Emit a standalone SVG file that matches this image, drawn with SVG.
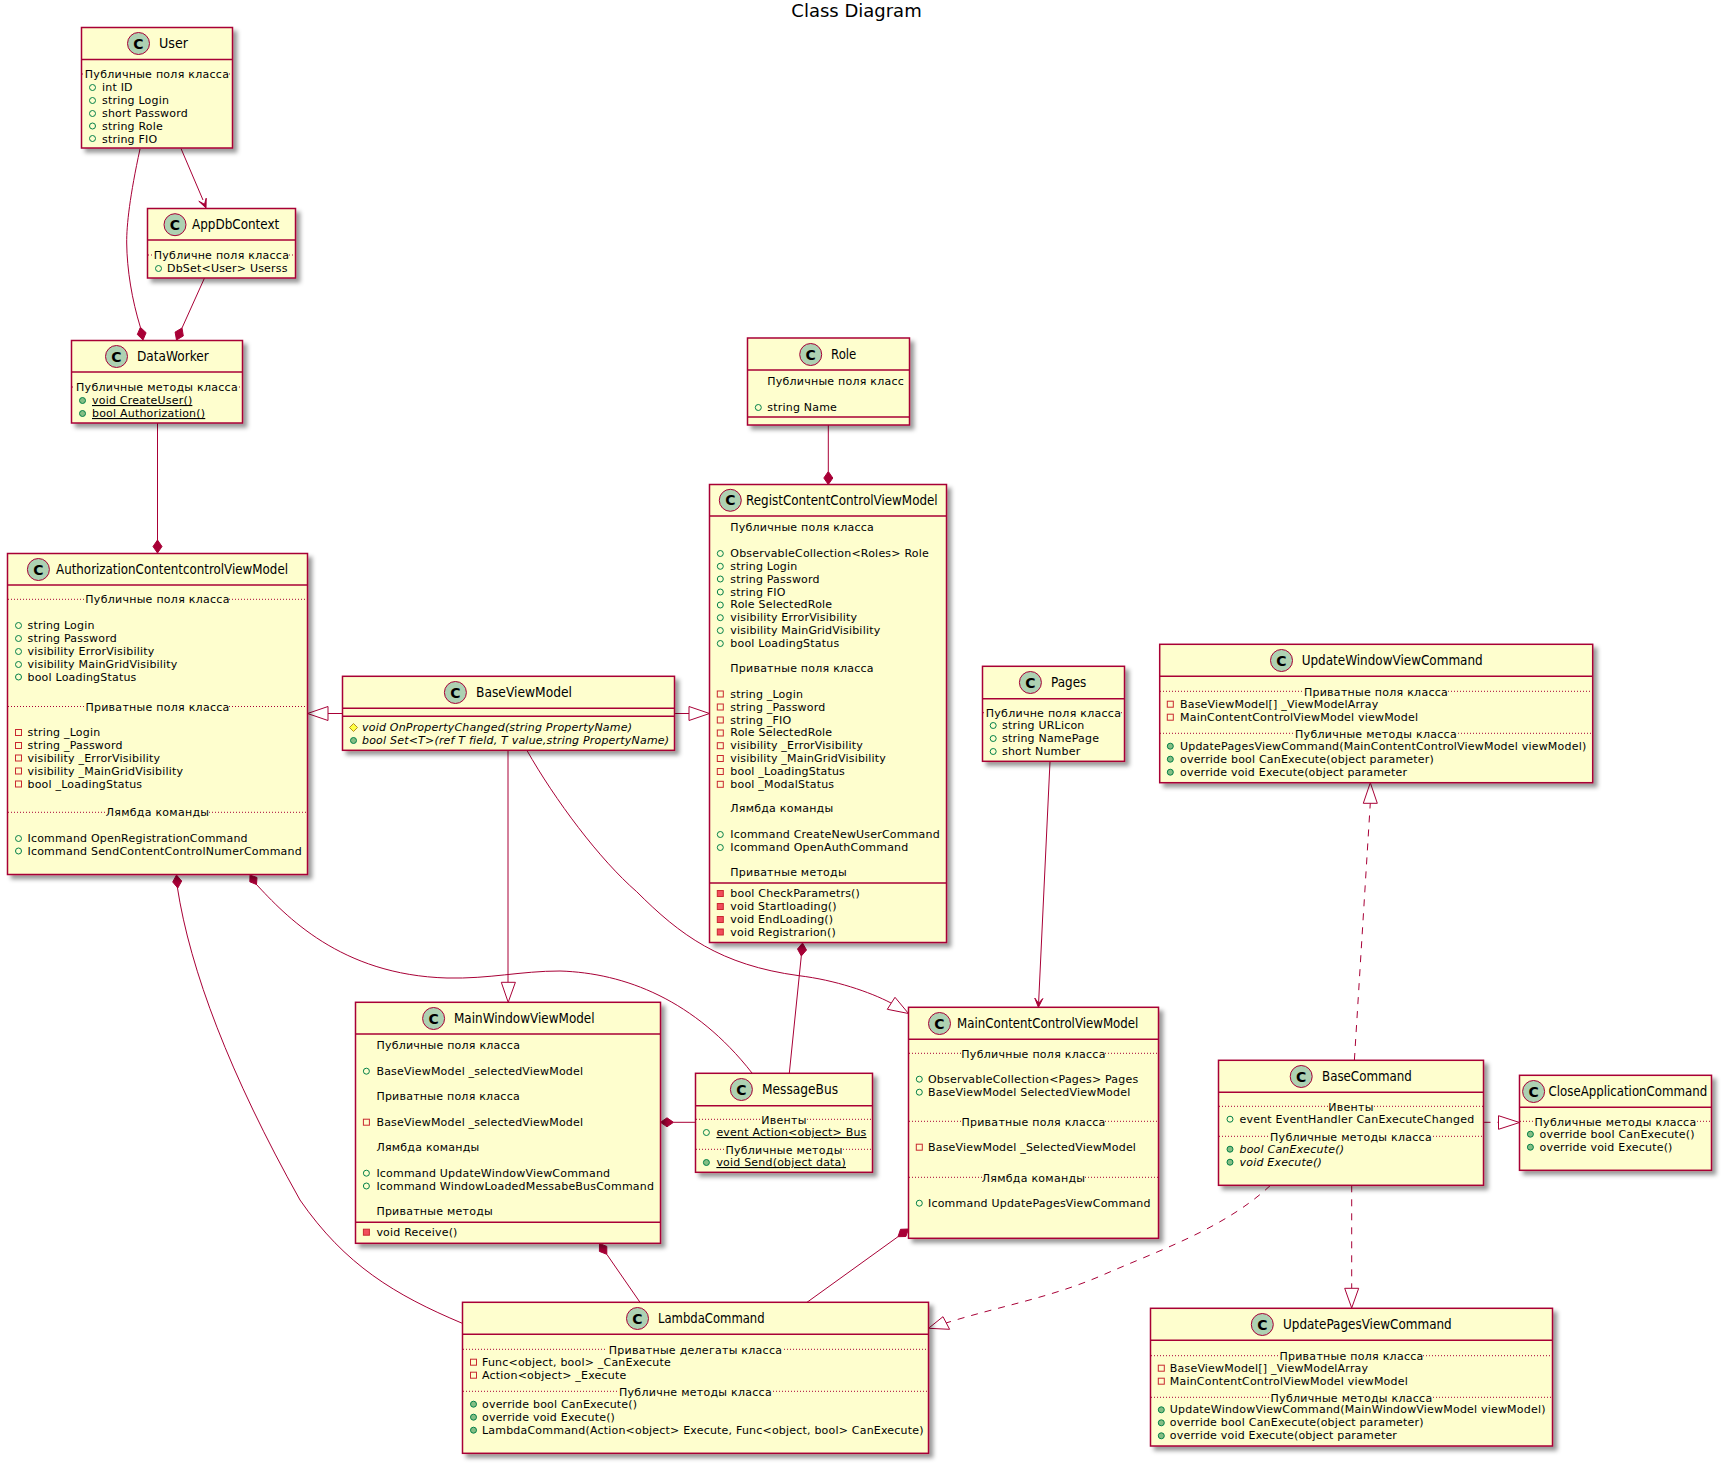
<svg xmlns="http://www.w3.org/2000/svg" width="1724" height="1466" viewBox="0 0 1724 1466">
<style>
text{font-family:"DejaVu Sans",sans-serif;fill:#000}
.t{font-size:11px;letter-spacing:.2px}
.r{font-size:11px;letter-spacing:.24px}
.c{font-size:11px;text-anchor:middle;letter-spacing:.27px}
.n{font-size:14px}
.i{font-style:italic}
.u{text-decoration:underline}
.g{font-size:14px;font-weight:bold;text-anchor:middle}
.box{fill:#FEFECE;stroke:#A80036;stroke-width:1.5;filter:url(#sh)}
.ln{fill:none;stroke:#A80036;stroke-width:1.5}
.sep{fill:none;stroke:#A80036;stroke-width:1;stroke-dasharray:1 2}
.spot{fill:#ADD1B2;stroke:#A80036;stroke-width:1}
.e{fill:none;stroke:#A80036;stroke-width:1}
.d{stroke-dasharray:7 7}
.tri{fill:#fff;stroke:#A80036;stroke-width:1}
.fill{fill:#A80036;stroke:#A80036;stroke-width:1}
</style>
<defs>
<filter id="sh" x="-10%" y="-10%" width="125%" height="125%"><feGaussianBlur in="SourceAlpha" stdDeviation="2" result="b"/><feColorMatrix in="b" type="matrix" values="0 0 0 0 0 0 0 0 0 0 0 0 0 0 0 0 0 0 .4 0" result="c"/><feOffset in="c" dx="4" dy="4" result="o"/><feMerge><feMergeNode in="o"/><feMergeNode in="SourceGraphic"/></feMerge></filter>
<circle id="pf" r="3" fill="none" stroke="#038048"/>
<circle id="pm" r="3" fill="#84BE84" stroke="#038048"/>
<rect id="xf" x="-3" y="-3" width="6" height="6" fill="none" stroke="#C82930"/>
<rect id="xm" x="-3" y="-3" width="6" height="6" fill="#F24D5C" stroke="#C82930"/>
<polygon id="pr" points="0,-4 4,0 0,4 -4,0" fill="#FFFF44" stroke="#B38D22"/>
</defs>
<text x="856.5" y="17" font-size="18" text-anchor="middle">Class Diagram</text>

<g id="connectors">
<path class="e" d="M181,148.5L203,200"/><polygon class="fill" points="206,208 206.2,198.2 204.5,204.3 198.8,201.2"/>
<path class="e" d="M140,149C130,195 126.5,225 126.7,243C127,270 132,300 140.4,327.3"/><polygon class="fill" points="143,340 146.1,332.7 140.4,327.3 137.3,334.5"/>
<path class="e" d="M204.5,278L182,328"/><polygon class="fill" points="176.5,340 183.3,335.9 182,328 175.1,332.1"/>
<path class="e" d="M157.5,423V540"/><polygon class="fill" points="157.5,553 162,546.5 157.5,540 153,546.5"/>
<path class="e" d="M828.3,425V471.5"/><polygon class="fill" points="828.3,484.5 832.8,478 828.3,471.5 823.8,478"/>
<path class="e" d="M328,713.5H342.5"/><polygon class="tri" points="307.5,713.5 328,706.5 328,720.5"/>
<path class="e" d="M674.5,713.5H689"/><polygon class="tri" points="709.5,713.5 689,706.5 689,720.5"/>
<path class="e" d="M526.7,750C555,800 600,860 636.7,891.7C680,935 720,965 799,975.7C835,980 870,992 891,1003"/><polygon class="tri" points="908.5,1013.5 887.3,1009.3 895,997.3"/>
<path class="e" d="M1050,761.5L1038.6,1003"/><polygon class="fill" points="1038.4,1007.3 1042.8,998.5 1038.6,1003.3 1034.8,998.1"/>
<path class="e d" d="M1354.4,1060L1370.3,803"/><polygon class="tri" points="1370.3,782.7 1363.3,803.3 1377.3,803.3"/>
<path class="e d" d="M1483.5,1122.3H1498.5"/><polygon class="tri" points="1519.5,1122.5 1498.5,1115.7 1498.5,1129.3"/>
<path class="e d" d="M1351.7,1185.3V1288"/><polygon class="tri" points="1351.7,1308 1344.7,1288.3 1358.7,1288.3"/>
<path class="e d" d="M1270.3,1185.5C1225,1228 1160,1250 1102.8,1275C1050,1298 1000,1306 946,1323"/><polygon class="tri" points="928.5,1328.3 949.6,1329.3 943,1316.7"/>
<path class="e" d="M177.3,887C190,970 230,1075 300,1200C345,1265 395,1295 462.3,1323.3"/><polygon class="fill" points="176.5,875 181.7,881 177.8,888 172.7,882"/>
<path class="e" d="M256,884C285,915 340,975 447,978C490,979 520,971 560,971C625,973 695,1000 752,1073"/><polygon class="fill" points="250,875 257,877.5 256.5,884.5 249.8,881.8"/>
<path class="e" d="M508,750.3V982.3"/><polygon class="tri" points="508.2,1002.3 501.3,982.3 515.4,982.3"/>
<path class="e" d="M801.3,956L789.3,1073.3"/><polygon class="fill" points="802.5,943 806.5,950 801.3,956 797.5,949"/>
<path class="e" d="M673.5,1122.3H695.5"/><polygon class="fill" points="660.5,1122.3 667,1117.8 673.5,1122.3 667,1126.8"/>
<path class="e" d="M606.8,1254.3L640,1302.3"/><polygon class="fill" points="599.5,1243.5 606.8,1246.4 606.8,1254.3 599.4,1251.4"/>
<path class="e" d="M898,1236.7L807,1302.3"/><polygon class="fill" points="908.5,1229 905.9,1236.5 898,1236.7 900.5,1229.3"/>
</g>

<g id="User">
<rect class="box" x="81.5" y="27.5" width="151" height="120.5"/><path class="ln" d="M81.5,59.5H232.5"/>
<circle class="spot" cx="138.5" cy="43.5" r="11"/><text class="g" x="138.5" y="48.5">C</text><text class="n" x="159" y="48" textLength="29" lengthAdjust="spacingAndGlyphs">User</text>
<path class="sep" d="M82,74H85M229,74H232"/><text class="c" x="157" y="78">Публичные поля класса</text>
<use href="#pf" x="92.5" y="87.5"/><text class="t" x="102" y="91">int ID</text>
<use href="#pf" x="92.5" y="100.5"/><text class="t" x="102" y="104">string Login</text>
<use href="#pf" x="92.5" y="113.5"/><text class="t" x="102" y="117">short Password</text>
<use href="#pf" x="92.5" y="126"/><text class="t" x="102" y="129.5">string Role</text>
<use href="#pf" x="92.5" y="138.5"/><text class="t" x="102" y="142.5">string FIO</text>
</g>

<g id="AppDbContext">
<rect class="box" x="147.5" y="208.5" width="148" height="69.5"/><path class="ln" d="M147.5,240H295.5"/>
<circle class="spot" cx="175" cy="224.7" r="11"/><text class="g" x="175" y="229.7">C</text><text class="n" x="192" y="229" textLength="87.3" lengthAdjust="spacingAndGlyphs">AppDbContext</text>
<path class="sep" d="M148,255H154M289,255H295"/><text class="c" x="221.5" y="259">Публичне поля класса</text>
<use href="#pf" x="158.5" y="268.5"/><text class="t" x="167" y="272">DbSet&lt;User&gt; Userss</text>
</g>

<g id="DataWorker">
<rect class="box" x="71.5" y="340.5" width="171" height="82.5"/><path class="ln" d="M71.5,372H242.5"/>
<circle class="spot" cx="116.5" cy="356.5" r="11"/><text class="g" x="116.5" y="361.5">C</text><text class="n" x="137" y="361" textLength="71.7" lengthAdjust="spacingAndGlyphs">DataWorker</text>
<path class="sep" d="M72,387H75M239,387H242"/><text class="c" x="157" y="391">Публичные методы класса</text>
<use href="#pm" x="82.5" y="400.5"/><text class="t u" x="92" y="404">void CreateUser()</text>
<use href="#pm" x="82.5" y="413.5"/><text class="t u" x="92" y="417">bool Authorization()</text>
</g>

<g id="AuthorizationContentcontrolViewModel">
<rect class="box" x="7.5" y="553.5" width="300" height="321"/><path class="ln" d="M7.5,585H307.5"/>
<circle class="spot" cx="38.4" cy="569.5" r="11"/><text class="g" x="38.4" y="574.5">C</text><text class="n" x="56" y="574" textLength="232" lengthAdjust="spacingAndGlyphs">AuthorizationContentcontrolViewModel</text>
<path class="sep" d="M8,599.3H86M229,599.3H307"/><text class="c" x="157.5" y="603">Публичные поля класса</text>
<use href="#pf" x="18.5" y="625.5"/><text class="t" x="27.5" y="629">string Login</text>
<use href="#pf" x="18.5" y="638.5"/><text class="t" x="27.5" y="642">string Password</text>
<use href="#pf" x="18.5" y="651.5"/><text class="t" x="27.5" y="655">visibility ErrorVisibility</text>
<use href="#pf" x="18.5" y="664.5"/><text class="t" x="27.5" y="668">visibility MainGridVisibility</text>
<use href="#pf" x="18.5" y="677"/><text class="t" x="27.5" y="680.5">bool LoadingStatus</text>
<path class="sep" d="M8,706.5H86M229,706.5H307"/><text class="c" x="157.5" y="710.5">Приватные поля класса</text>
<use href="#xf" x="18.5" y="732.5"/><text class="t" x="27.5" y="736">string _Login</text>
<use href="#xf" x="18.5" y="745.5"/><text class="t" x="27.5" y="749">string _Password</text>
<use href="#xf" x="18.5" y="758"/><text class="t" x="27.5" y="761.5">visibility _ErrorVisibility</text>
<use href="#xf" x="18.5" y="771"/><text class="t" x="27.5" y="774.5">visibility _MainGridVisibility</text>
<use href="#xf" x="18.5" y="784"/><text class="t" x="27.5" y="787.5">bool _LoadingStatus</text>
<path class="sep" d="M8,812.3H106M209,812.3H307"/><text class="c" x="157.5" y="816">Лямбда команды</text>
<use href="#pf" x="18.5" y="838.5"/><text class="t" x="27.5" y="842">Icommand OpenRegistrationCommand</text>
<use href="#pf" x="18.5" y="851"/><text class="t" x="27.5" y="854.5">Icommand SendContentControlNumerCommand</text>
</g>

<g id="BaseViewModel">
<rect class="box" x="342.5" y="676.3" width="332" height="74"/><path class="ln" d="M342.5,708.3H674.5M342.5,716.3H674.5"/>
<circle class="spot" cx="455.4" cy="692.5" r="11"/><text class="g" x="455.4" y="697.5">C</text><text class="n" x="476" y="697" textLength="96" lengthAdjust="spacingAndGlyphs">BaseViewModel</text>
<use href="#pr" x="353.5" y="727.5"/><text class="t i" x="362" y="731">void OnPropertyChanged(string PropertyName)</text>
<use href="#pm" x="353.5" y="740.5"/><text class="t i" x="362" y="744">bool Set&lt;T&gt;(ref T field, T value,string PropertyName)</text>
</g>

<g id="Role">
<rect class="box" x="747.5" y="338" width="162" height="87"/><path class="ln" d="M747.5,370H909.5M747.5,417H909.5"/>
<circle class="spot" cx="810.7" cy="354.5" r="11"/><text class="g" x="810.7" y="359.5">C</text><text class="n" x="831" y="359" textLength="25.3" lengthAdjust="spacingAndGlyphs">Role</text>
<text class="r" x="767.3" y="385.3">Публичные поля класс</text>
<use href="#pf" x="758.3" y="407.5"/><text class="t" x="767.3" y="411">string Name</text>
</g>

<g id="RegistContentControlViewModel">
<rect class="box" x="709.5" y="484.5" width="237" height="458"/><path class="ln" d="M709.5,516H946.5M709.5,883H946.5"/>
<circle class="spot" cx="730.3" cy="500.3" r="11"/><text class="g" x="730.3" y="505.3">C</text><text class="n" x="746" y="505" textLength="191.7" lengthAdjust="spacingAndGlyphs">RegistContentControlViewModel</text>
<text class="r" x="730.3" y="531">Публичные поля класса</text>
<use href="#pf" x="720.3" y="553.5"/><text class="t" x="730.3" y="557">ObservableCollection&lt;Roles&gt; Role</text>
<use href="#pf" x="720.3" y="566.3"/><text class="t" x="730.3" y="569.8">string Login</text>
<use href="#pf" x="720.3" y="579"/><text class="t" x="730.3" y="582.6">string Password</text>
<use href="#pf" x="720.3" y="592"/><text class="t" x="730.3" y="595.5">string FIO</text>
<use href="#pf" x="720.3" y="605"/><text class="t" x="730.3" y="608.4">Role SelectedRole</text>
<use href="#pf" x="720.3" y="617.7"/><text class="t" x="730.3" y="621.2">visibility ErrorVisibility</text>
<use href="#pf" x="720.3" y="630.5"/><text class="t" x="730.3" y="634">visibility MainGridVisibility</text>
<use href="#pf" x="720.3" y="643.5"/><text class="t" x="730.3" y="647">bool LoadingStatus</text>
<text class="r" x="730.3" y="672">Приватные поля класса</text>
<use href="#xf" x="720.3" y="694"/><text class="t" x="730.3" y="697.6">string _Login</text>
<use href="#xf" x="720.3" y="707"/><text class="t" x="730.3" y="710.5">string _Password</text>
<use href="#xf" x="720.3" y="720"/><text class="t" x="730.3" y="723.5">string _FIO</text>
<use href="#xf" x="720.3" y="733"/><text class="t" x="730.3" y="736.3">Role SelectedRole</text>
<use href="#xf" x="720.3" y="745.7"/><text class="t" x="730.3" y="749.2">visibility _ErrorVisibility</text>
<use href="#xf" x="720.3" y="758.5"/><text class="t" x="730.3" y="762">visibility _MainGridVisibility</text>
<use href="#xf" x="720.3" y="771.5"/><text class="t" x="730.3" y="775">bool _LoadingStatus</text>
<use href="#xf" x="720.3" y="784.3"/><text class="t" x="730.3" y="787.8">bool _ModalStatus</text>
<text class="r" x="730.3" y="811.5">Лямбда команды</text>
<use href="#pf" x="720.3" y="834.5"/><text class="t" x="730.3" y="838">Icommand CreateNewUserCommand</text>
<use href="#pf" x="720.3" y="847.5"/><text class="t" x="730.3" y="851">Icommand OpenAuthCommand</text>
<text class="r" x="730.3" y="875.5">Приватные методы</text>
<use href="#xm" x="720.3" y="893.5"/><text class="t" x="730.3" y="897">bool CheckParametrs()</text>
<use href="#xm" x="720.3" y="906.5"/><text class="t" x="730.3" y="910">void Startloading()</text>
<use href="#xm" x="720.3" y="919.5"/><text class="t" x="730.3" y="923">void EndLoading()</text>
<use href="#xm" x="720.3" y="932"/><text class="t" x="730.3" y="935.5">void Registrarion()</text>
</g>

<g id="MainWindowViewModel">
<rect class="box" x="355.5" y="1002.3" width="305" height="241"/><path class="ln" d="M355.5,1034H660.5M355.5,1222.3H660.5"/>
<circle class="spot" cx="433.6" cy="1018.5" r="11"/><text class="g" x="433.6" y="1023.5">C</text><text class="n" x="454" y="1023" textLength="140.6" lengthAdjust="spacingAndGlyphs">MainWindowViewModel</text>
<text class="r" x="376.4" y="1048.7">Публичные поля класса</text>
<use href="#pf" x="366.4" y="1071.2"/><text class="t" x="376.4" y="1074.7">BaseViewModel _selectedViewModel</text>
<text class="r" x="376.4" y="1099.7">Приватные поля класса</text>
<use href="#xf" x="366.4" y="1122.2"/><text class="t" x="376.4" y="1125.7">BaseViewModel _selectedViewModel</text>
<text class="r" x="376.4" y="1150.7">Лямбда команды</text>
<use href="#pf" x="366.4" y="1173.2"/><text class="t" x="376.4" y="1176.7">Icommand UpdateWindowViewCommand</text>
<use href="#pf" x="366.4" y="1186"/><text class="t" x="376.4" y="1189.5">Icommand WindowLoadedMessabeBusCommand</text>
<text class="r" x="376.4" y="1215">Приватные методы</text>
<use href="#xm" x="366.4" y="1232.2"/><text class="t" x="376.4" y="1235.7">void Receive()</text>
</g>

<g id="MessageBus">
<rect class="box" x="695.5" y="1073.3" width="177" height="99"/><path class="ln" d="M695.5,1105.7H872.5"/>
<circle class="spot" cx="741.4" cy="1089.5" r="11"/><text class="g" x="741.4" y="1094.5">C</text><text class="n" x="762" y="1094" textLength="76" lengthAdjust="spacingAndGlyphs">MessageBus</text>
<path class="sep" d="M696,1119.3H761M807,1119.3H872"/><text class="c" x="784" y="1123.7">Ивенты</text>
<use href="#pf" x="706.4" y="1132.5"/><text class="t u" x="716.4" y="1136">event Action&lt;object&gt; Bus</text>
<path class="sep" d="M696,1149.3H725M843,1149.3H872"/><text class="c" x="784" y="1153.5">Публичные методы</text>
<use href="#pm" x="706.4" y="1162.5"/><text class="t u" x="716.4" y="1166">void Send(object data)</text>
</g>

<g id="LambdaCommand">
<rect class="box" x="462.5" y="1302.3" width="466" height="151"/><path class="ln" d="M462.5,1334.3H928.5"/>
<circle class="spot" cx="637.5" cy="1318.5" r="11"/><text class="g" x="637.5" y="1323.5">C</text><text class="n" x="658" y="1323" textLength="106.6" lengthAdjust="spacingAndGlyphs">LambdaCommand</text>
<path class="sep" d="M463,1349.3H607M784,1349.3H928"/><text class="c" x="695.5" y="1353.5">Приватные делегаты класса</text>
<use href="#xf" x="473.5" y="1362.2"/><text class="t" x="482" y="1365.7">Func&lt;object, bool&gt; _CanExecute</text>
<use href="#xf" x="473.5" y="1375.2"/><text class="t" x="482" y="1378.7">Action&lt;object&gt; _Execute</text>
<path class="sep" d="M463,1391.3H618M773,1391.3H928"/><text class="c" x="695.5" y="1395.5">Публичне методы класса</text>
<use href="#pm" x="473.5" y="1404.2"/><text class="t" x="482" y="1407.7">override bool CanExecute()</text>
<use href="#pm" x="473.5" y="1417.2"/><text class="t" x="482" y="1420.7">override void Execute()</text>
<use href="#pm" x="473.5" y="1430.2"/><text class="t" x="482" y="1433.7">LambdaCommand(Action&lt;object&gt; Execute, Func&lt;object, bool&gt; CanExecute)</text>
</g>

<g id="UpdateWindowViewCommand">
<rect class="box" x="1159.7" y="644.3" width="433" height="138.4"/><path class="ln" d="M1159.7,676.3H1592.7"/>
<circle class="spot" cx="1281.5" cy="660.5" r="11"/><text class="g" x="1281.5" y="665.5">C</text><text class="n" x="1301.7" y="665" textLength="181" lengthAdjust="spacingAndGlyphs">UpdateWindowViewCommand</text>
<path class="sep" d="M1160,691.3H1304M1448,691.3H1592"/><text class="c" x="1376" y="695.5">Приватные поля класса</text>
<use href="#xf" x="1170.3" y="704.2"/><text class="t" x="1180" y="707.7">BaseViewModel[] _ViewModelArray</text>
<use href="#xf" x="1170.3" y="717.2"/><text class="t" x="1180" y="720.7">MainContentControlViewModel viewModel</text>
<path class="sep" d="M1160,733.3H1294M1458,733.3H1592"/><text class="c" x="1376" y="737.5">Публичные методы класса</text>
<use href="#pm" x="1170.3" y="746.2"/><text class="t" x="1180" y="749.7">UpdatePagesViewCommand(MainContentControlViewModel viewModel)</text>
<use href="#pm" x="1170.3" y="759.2"/><text class="t" x="1180" y="762.7">override bool CanExecute(object parameter)</text>
<use href="#pm" x="1170.3" y="772.2"/><text class="t" x="1180" y="775.7">override void Execute(object parameter</text>
</g>

<g id="Pages">
<rect class="box" x="982.5" y="666.3" width="142" height="95"/><path class="ln" d="M982.5,698.7H1124.5"/>
<circle class="spot" cx="1030.4" cy="682.5" r="11"/><text class="g" x="1030.4" y="687.5">C</text><text class="n" x="1051" y="687" textLength="35.3" lengthAdjust="spacingAndGlyphs">Pages</text>
<path class="sep" d="M983,712.7H986M1121,712.7H1124"/><text class="c" x="1053.5" y="717">Публичне поля класса</text>
<use href="#pf" x="993.2" y="725.5"/><text class="t" x="1002" y="729">string URLicon</text>
<use href="#pf" x="993.2" y="738.5"/><text class="t" x="1002" y="742">string NamePage</text>
<use href="#pf" x="993.2" y="751.5"/><text class="t" x="1002" y="755">short Number</text>
</g>

<g id="MainContentControlViewModel">
<rect class="box" x="908.5" y="1007.3" width="250" height="231"/><path class="ln" d="M908.5,1039.3H1158.5"/>
<circle class="spot" cx="939.5" cy="1023.5" r="11"/><text class="g" x="939.5" y="1028.5">C</text><text class="n" x="957" y="1028" textLength="181.4" lengthAdjust="spacingAndGlyphs">MainContentControlViewModel</text>
<path class="sep" d="M909,1053.3H962M1105,1053.3H1158"/><text class="c" x="1033.5" y="1057.5">Публичные поля класса</text>
<use href="#pf" x="919.3" y="1079.2"/><text class="t" x="928" y="1082.7">ObservableCollection&lt;Pages&gt; Pages</text>
<use href="#pf" x="919.3" y="1092.2"/><text class="t" x="928" y="1095.7">BaseViewModel SelectedViewModel</text>
<path class="sep" d="M909,1121.3H962M1105,1121.3H1158"/><text class="c" x="1033.5" y="1125.5">Приватные поля класса</text>
<use href="#xf" x="919.3" y="1147.2"/><text class="t" x="928" y="1150.7">BaseViewModel _SelectedViewModel</text>
<path class="sep" d="M909,1177.3H982M1085,1177.3H1158"/><text class="c" x="1033.5" y="1181.5">Лямбда команды</text>
<use href="#pf" x="919.3" y="1203.2"/><text class="t" x="928" y="1206.7">Icommand UpdatePagesViewCommand</text>
</g>

<g id="BaseCommand">
<rect class="box" x="1218.5" y="1060.3" width="265" height="125"/><path class="ln" d="M1218.5,1092.3H1483.5"/>
<circle class="spot" cx="1301.2" cy="1076.5" r="11"/><text class="g" x="1301.2" y="1081.5">C</text><text class="n" x="1322" y="1081" textLength="89.8" lengthAdjust="spacingAndGlyphs">BaseCommand</text>
<path class="sep" d="M1219,1106.3H1328M1374,1106.3H1483"/><text class="c" x="1351" y="1110.5">Ивенты</text>
<use href="#pf" x="1230" y="1119.2"/><text class="t" x="1239.5" y="1122.7">event EventHandler CanExecuteChanged</text>
<path class="sep" d="M1219,1136.3H1269M1433,1136.3H1483"/><text class="c" x="1351" y="1140.5">Публичные методы класса</text>
<use href="#pm" x="1230" y="1149.2"/><text class="t i" x="1239.5" y="1152.7">bool CanExecute()</text>
<use href="#pm" x="1230" y="1162.2"/><text class="t i" x="1239.5" y="1165.7">void Execute()</text>
</g>

<g id="CloseApplicationCommand">
<rect class="box" x="1519.5" y="1075.3" width="192" height="95"/><path class="ln" d="M1519.5,1107.3H1711.5"/>
<circle class="spot" cx="1533.6" cy="1091.5" r="11"/><text class="g" x="1533.6" y="1096.5">C</text><text class="n" transform="translate(1548.5 1096) scale(.844 1)">CloseApplicationCommand</text>
<path class="sep" d="M1520,1121.3H1534M1697,1121.3H1711"/><text class="c" x="1615.5" y="1125.5">Публичные методы класса</text>
<use href="#pm" x="1530.4" y="1134.2"/><text class="t" x="1539.5" y="1137.7">override bool CanExecute()</text>
<use href="#pm" x="1530.4" y="1147.2"/><text class="t" x="1539.5" y="1150.7">override void Execute()</text>
</g>

<g id="UpdatePagesViewCommand">
<rect class="box" x="1150.5" y="1308.3" width="402" height="137.7"/><path class="ln" d="M1150.5,1340.3H1552.5"/>
<circle class="spot" cx="1262.3" cy="1324.5" r="11"/><text class="g" x="1262.3" y="1329.5">C</text><text class="n" x="1283" y="1329" textLength="168.7" lengthAdjust="spacingAndGlyphs">UpdatePagesViewCommand</text>
<path class="sep" d="M1151,1355.7H1280M1423,1355.7H1552"/><text class="c" x="1351.5" y="1360">Приватные поля класса</text>
<use href="#xf" x="1161.3" y="1368.2"/><text class="t" x="1169.8" y="1371.7">BaseViewModel[] _ViewModelArray</text>
<use href="#xf" x="1161.3" y="1381.2"/><text class="t" x="1169.8" y="1384.7">MainContentControlViewModel viewModel</text>
<path class="sep" d="M1151,1397.3H1270M1433,1397.3H1552"/><text class="c" x="1351.5" y="1401.5">Публичные методы класса</text>
<use href="#pm" x="1161.3" y="1409.8"/><text class="t" x="1169.8" y="1413.3">UpdateWindowViewCommand(MainWindowViewModel viewModel)</text>
<use href="#pm" x="1161.3" y="1422.8"/><text class="t" x="1169.8" y="1426.3">override bool CanExecute(object parameter)</text>
<use href="#pm" x="1161.3" y="1435.8"/><text class="t" x="1169.8" y="1439.3">override void Execute(object parameter</text>
</g>
</svg>
